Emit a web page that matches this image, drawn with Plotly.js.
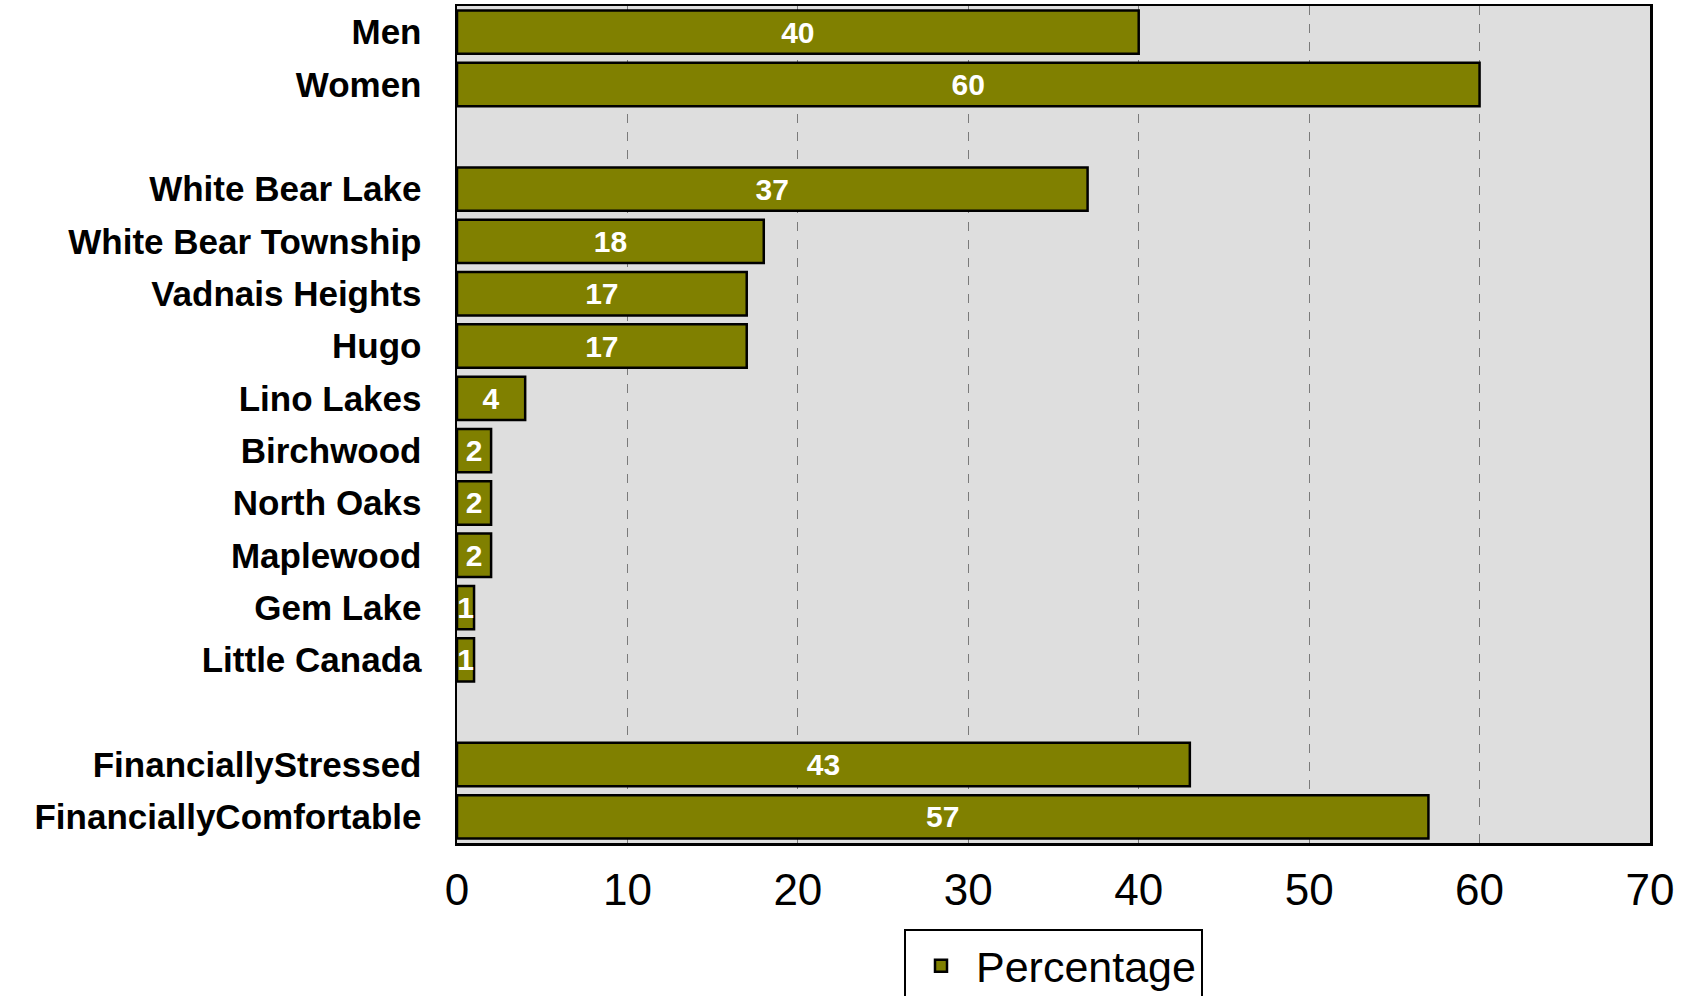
<!DOCTYPE html>
<html>
<head>
<meta charset="utf-8">
<script src="https://cdn.plot.ly/plotly-3.0.1.min.js"></script>
<style>html,body{margin:0;padding:0;background:#fff;}</style>
</head>
<body>
<div id="chart" style="width:1696px;height:996px;"></div>
<script>
// Categories (blank entries are spacer rows)
const categories = [
  "Men", "Women", " ",
  "White Bear Lake", "White Bear Township", "Vadnais Heights", "Hugo",
  "Lino Lakes", "Birchwood", "North Oaks", "Maplewood", "Gem Lake", "Little Canada",
  "  ",
  "FinanciallyStressed", "FinanciallyComfortable"
];
const percentage = [
  40, 60, null,
  37, 18, 17, 17,
  4, 2, 2, 2, 1, 1,
  null,
  43, 57
];
const xTicks = [0, 10, 20, 30, 40, 50, 60, 70];
const seriesName = "Percentage";

const FONT = "Liberation Sans, Arial, sans-serif";
const OLIVE = "#808000";

const trace = {
  type: "bar",
  orientation: "h",
  name: seriesName,
  y: categories,
  x: percentage,
  marker: {color: OLIVE, line: {color: "#000000", width: 2.5}},
  text: percentage.map(v => v === null ? "" : String(v)),
  textposition: "inside",
  insidetextanchor: "middle",
  constraintext: "none",
  textfont: {family: FONT, size: 30, color: "#ffffff", weight: 700},
  cliponaxis: false,
  hoverinfo: "none"
};

const layout = {
  width: 1696,
  height: 996,
  margin: {l: 457, r: 46, t: 6, b: 153},
  paper_bgcolor: "#ffffff",
  plot_bgcolor: "#dedede",
  bargap: 0.17,
  font: {family: FONT, color: "#000000"},
  showlegend: true,
  xaxis: {
    range: [0, 70],
    tickvals: xTicks,
    ticktext: xTicks.map(String),
    tickfont: {family: FONT, size: 44, color: "#000"},
    ticks: "",
    ticklabelstandoff: 7,
    showgrid: true,
    gridcolor: "#7a7a7a",
    gridwidth: 1,
    griddash: "dash",
    zeroline: false,
    showline: true,
    linecolor: "#000",
    linewidth: 2.5,
    mirror: true,
    fixedrange: true
  },
  yaxis: {
    type: "category",
    categoryorder: "array",
    categoryarray: categories,
    autorange: "reversed",
    tickfont: {family: FONT, size: 35, color: "#000", weight: 700},
    ticks: "",
    ticklabelstandoff: 26,
    showgrid: false,
    zeroline: false,
    showline: true,
    linecolor: "#000",
    linewidth: 2.5,
    mirror: true,
    fixedrange: true
  },
  legend: {
    orientation: "h",
    x: 0.5,
    xanchor: "center",
    yref: "container",
    y: 0.067,
    yanchor: "top",
    itemwidth: 60,
    bgcolor: "#ffffff",
    bordercolor: "#000000",
    borderwidth: 2,
    font: {family: FONT, size: 43, color: "#000"}
  }
};

Plotly.newPlot("chart", [trace], layout, {displayModeBar: false, staticPlot: true});
</script>
</body>
</html>
